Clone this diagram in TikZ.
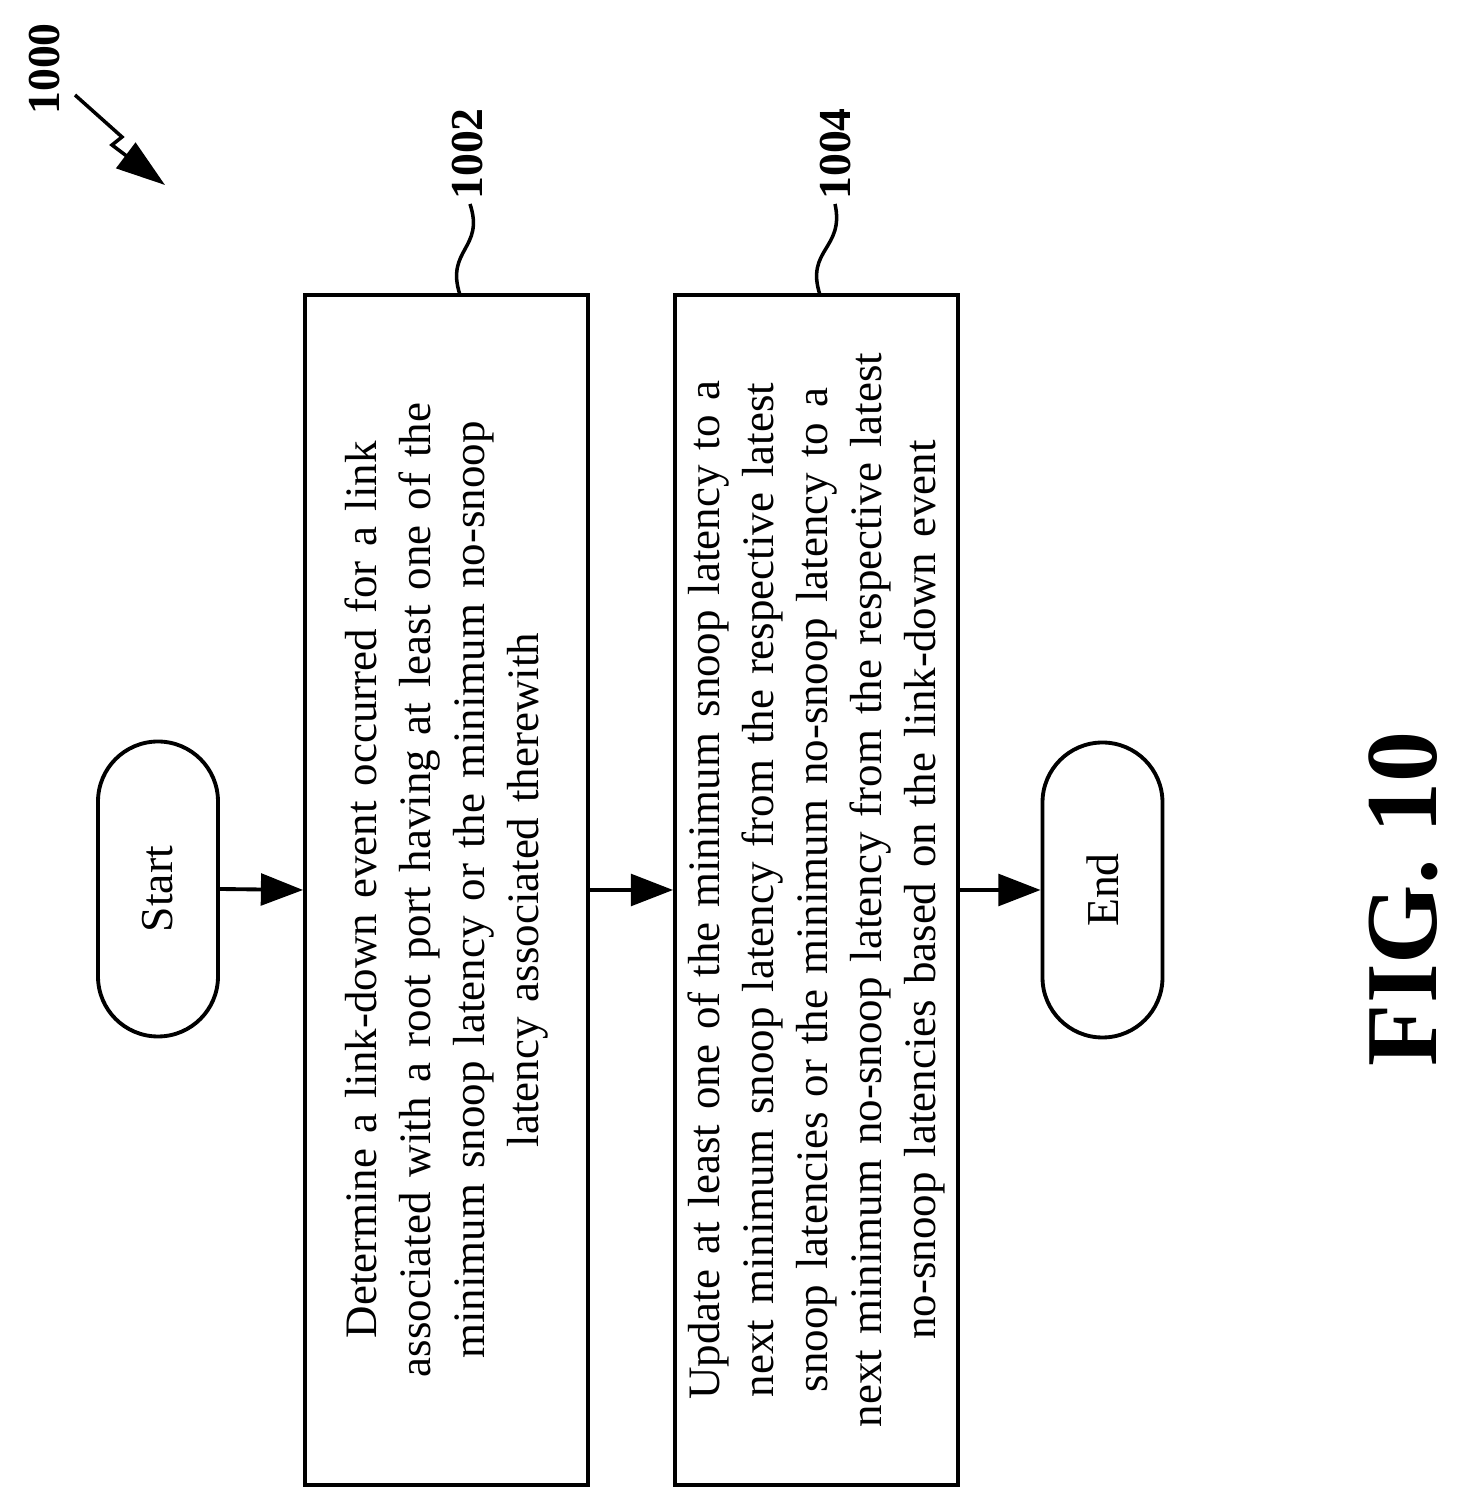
\documentclass[tikz,border=0pt]{standalone}
\usepackage{fontspec}
\setmainfont{Liberation Serif}
\usetikzlibrary{arrows.meta}
\tikzset{
  procbox/.style={draw, line width=1.1pt, rotate=90, minimum width=11.9cm,
    minimum height=2.83cm, text width=11.5cm, align=center,
    font=\fontsize{12.8}{15.4}\selectfont},
  term/.style={draw, line width=1.1pt, rotate=90, rounded corners=0.6cm,
    minimum width=2.95cm, minimum height=1.2cm, font=\fontsize{13}{15.4}\selectfont},
  flow/.style={-{Triangle[length=12pt,width=9pt]}, line width=1.1pt},
  ref/.style={rotate=90, font=\fontsize{13}{15}\selectfont\bfseries}
}
\begin{document}
\begin{tikzpicture}
  \useasboundingbox (0,0) rectangle (14.58,15.09);
  % terminals and steps
  \node[term] (start) at (1.58,6.2) {Start};
  \node[procbox] (s1002) at (4.465,6.19) {Determine a link-down event occurred for a link\\
    associated with a root port having at least one of the\\
    minimum snoop latency or the minimum no-snoop\\
    latency associated therewith};
  \node[procbox] (s1004) at (8.165,6.19) {Update at least one of the minimum snoop latency to a\\
    next minimum snoop latency from the respective latest\\
    snoop latencies or the minimum no-snoop latency to a\\
    next minimum no-snoop latency from the respective latest\\
    no-snoop latencies based on the link-down event};
  \node[term] (end) at (11.025,6.19) {End};
  \draw[flow] (start.south) -- (s1002.north);
  \draw[flow] (s1002.south) -- (s1004.north);
  \draw[flow] (s1004.south) -- (end.north);
  % reference numerals
  \node[ref] (l1000) at (0.45,14.4) {1000};
  \node[ref] (l1002) at (4.68,13.55) {1002};
  \node[ref] (l1004) at (8.36,13.55) {1004};
  \coordinate (t1002) at (4.6,12.14);
  \coordinate (t1004) at (8.2,12.14);
  \draw[line width=1pt] (t1002) .. controls (4.45,12.6) and (4.85,12.6) .. (4.7,13.05);
  \draw[line width=1pt] (t1004) .. controls (8.05,12.6) and (8.45,12.6) .. (8.35,13.05);
  \draw[line width=1pt, -{Triangle[length=14pt,width=9pt]}]
    (0.75,14.14) -- (1.22,13.72) -- (1.12,13.64) -- (1.65,13.24);
  \node[rotate=90, font=\fontsize{29}{29}\selectfont\bfseries] (fig) at (14.03,6.1) {FIG. 10};
\end{tikzpicture}
\end{document}
